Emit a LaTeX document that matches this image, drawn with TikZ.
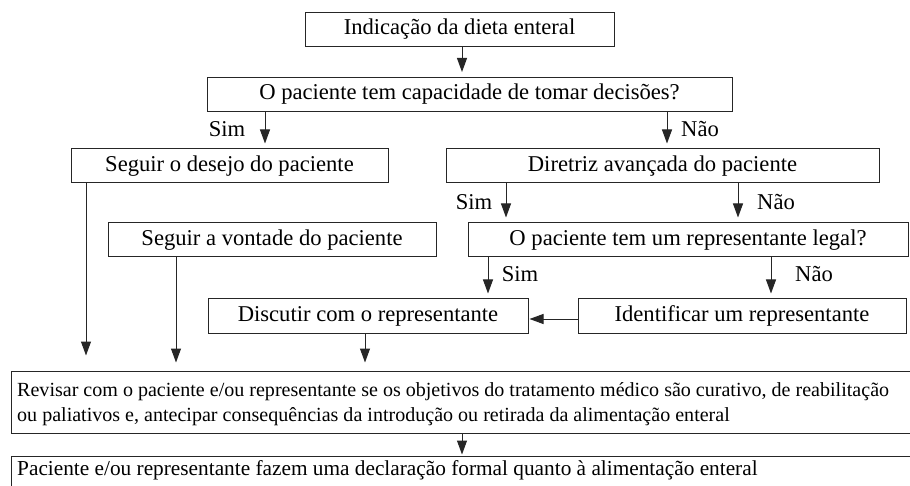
\documentclass[tikz,border=0pt]{standalone}
\usepackage{fontspec}
\setmainfont{Liberation Serif}
\usetikzlibrary{arrows.meta}
\begin{document}
\begin{tikzpicture}[x=1pt,y=-1pt,
  box/.style={draw=black!85, line width=1pt, rectangle, inner sep=0pt, minimum height=34pt, font=\fontsize{22.6}{26}\selectfont},
  lbl/.style={inner sep=0pt, font=\fontsize{22.6}{26}\selectfont},
  arr/.style={draw=black!85, line width=1pt, -{Triangle[length=14pt,width=10pt]}, shorten >=5pt}]
\useasboundingbox (0,0) rectangle (910,486);
\clip (0,0) rectangle (910,486);
\node[box, minimum width=309pt] (ind) at (459.5,29.5) {Indicação da dieta enteral};
\node[box, minimum width=525pt] (dec) at (469.5,94.5) {O paciente tem capacidade de tomar decisões?};
\node[box, minimum width=317pt] (des) at (229.5,166) {Seguir o desejo do paciente};
\node[box, minimum width=433pt] (dir) at (662.5,166) {Diretriz avançada do paciente};
\node[box, minimum width=328pt] (von) at (272,240) {Seguir a vontade do paciente};
\node[box, minimum width=440pt] (leg) at (688,240) {O paciente tem um representante legal?};
\node[box, minimum width=320pt] (dis) at (368,316) {Discutir com o representante};
\node[box, minimum width=328pt] (ide) at (742,316) {Identificar um representante};
\node[box, minimum width=910pt, minimum height=62pt] (rev) at (466,402) {};
\node[lbl, anchor=west, align=left, font=\fontsize{20.05}{25}\selectfont] (revt) at (17,404) {Revisar com o paciente e/ou representante se os objetivos do tratamento médico são curativo, de reabilitação\\ou paliativos e, antecipar consequências da introdução ou retirada da alimentação enteral};
\node[box, minimum width=910pt, minimum height=50pt] (dec2) at (466,481) {};
\node[lbl, anchor=west, font=\fontsize{21.3}{25}\selectfont] (dect) at (17,470) {Paciente e/ou representante fazem uma declaração formal quanto à alimentação enteral};
% arrows
\draw[arr] (ind.south -| 462,0) -- (dec.north -| 462,0);
\draw[arr] (dec.south -| 265,0) -- (des.north -| 265,0);
\draw[arr] (dec.south -| 667,0) -- (dir.north -| 667,0);
\draw[arr] (dir.south -| 506,0) -- (leg.north -| 506,0);
\draw[arr] (dir.south -| 738,0) -- (leg.north -| 738,0);
\draw[arr] (leg.south -| 488,0) -- (dis.north -| 488,0);
\draw[arr] (leg.south -| 771,0) -- (ide.north -| 771,0);
\draw[arr, shorten >=1pt] (ide.west |- 0,319) -- (dis.east |- 0,319);
\draw[arr, shorten >=15pt] (des.south -| 86,0) -- (rev.north -| 86,0);
\draw[arr, shorten >=8pt] (von.south -| 176,0) -- (rev.north -| 176,0);
\draw[arr, shorten >=8pt] (dis.south -| 365,0) -- (rev.north -| 365,0);
\draw[arr, shorten >=1pt] (rev.south -| 462,0) -- (dec2.north -| 462,0);
% labels
\node[lbl] (s1) at (227,129) {Sim};
\node[lbl] (n1) at (700,129) {Não};
\node[lbl] (s2) at (474,202) {Sim};
\node[lbl] (n2) at (776,202) {Não};
\node[lbl] (s3) at (520,274) {Sim};
\node[lbl] (n3) at (814,274) {Não};
\end{tikzpicture}
\end{document}
